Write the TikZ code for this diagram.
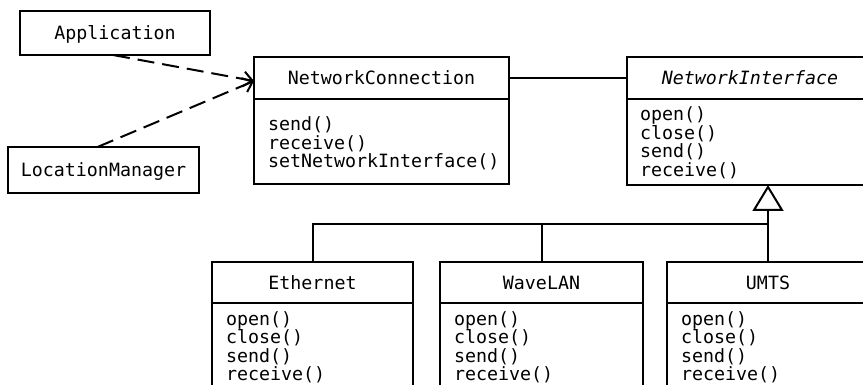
\documentclass[tikz,border=0pt]{standalone}
\usepackage{fontspec}
\newfontfamily\umlfont{DejaVu Sans Mono}
\usetikzlibrary{arrows.meta}
\begin{document}
\begin{tikzpicture}[x=1pt,y=-1pt, line width=2pt,
  box/.style={draw, rectangle, inner sep=0pt, outer sep=0pt,
    font=\umlfont\fontsize{18.3}{18.3}\selectfont, text height=13.4pt, text depth=0pt},
  body/.style={draw, rectangle, inner sep=0pt, outer sep=0pt, anchor=north},
  meth/.style={anchor=base west, inner sep=0pt,
    font=\umlfont\fontsize{18.3}{18.3}\selectfont},
  dep/.style={dash pattern=on 17pt off 8pt, -{Straight Barb[length=9pt,width=15pt]}},
  gen/.style={-{Triangle[open,length=26pt,width=31pt,fill=white]}},
]
\useasboundingbox (0,0) rectangle (863,385);
\clip (0,0) rectangle (863,385);

% client classes
\node[box, minimum width=190pt, minimum height=44pt] (app) at (115,33) {Application};
\node[box, minimum width=191pt, minimum height=46pt] (lm) at (103.5,170) {LocationManager};

% NetworkConnection
\node[box, minimum width=255pt, minimum height=42pt] (nc) at (381.5,78) {NetworkConnection};
\node[body, minimum width=255pt, minimum height=85pt] (ncb) at (nc.south) {};
\foreach \t [count=\i] in {send(),receive(),setNetworkInterface()}
  \node[meth] (ncm\i) at (267,{130.7+(\i-1)*18.4}) {\t};

% NetworkInterface
\node[box, minimum width=246pt, minimum height=42pt] (ni) at (750,78) {\itshape NetworkInterface};
\node[body, minimum width=246pt, minimum height=86pt] (nib) at (ni.south) {};
\foreach \t [count=\i] in {open(),close(),send(),receive()}
  \node[meth] (nim\i) at (639,{121+(\i-1)*18.4}) {\t};

% concrete interfaces
\node[box, minimum width=201pt, minimum height=41pt] (eth) at (312.5,282.5) {Ethernet};
\node[body, minimum width=201pt, minimum height=100pt] (ethb) at (eth.south) {};
\foreach \t [count=\i] in {open(),close(),send(),receive()}
  \node[meth] (ethm\i) at (225,{325.5+(\i-1)*18.3}) {\t};

\node[box, minimum width=203pt, minimum height=41pt] (wave) at (541.5,282.5) {WaveLAN};
\node[body, minimum width=203pt, minimum height=100pt] (waveb) at (wave.south) {};
\foreach \t [count=\i] in {open(),close(),send(),receive()}
  \node[meth] (wavem\i) at (453,{325.5+(\i-1)*18.3}) {\t};

\node[box, minimum width=202pt, minimum height=41pt] (umts) at (768,282.5) {UMTS};
\node[body, minimum width=202pt, minimum height=100pt] (umtsb) at (umts.south) {};
\foreach \t [count=\i] in {open(),close(),send(),receive()}
  \node[meth] (umtsm\i) at (680,{325.5+(\i-1)*18.3}) {\t};

% connectors
\draw[dep] ([xshift=-2pt]app.south) -- ([yshift=-3pt]nc.west);
\draw[dep] ([xshift=-6pt]lm.north) -- ([yshift=-3pt]nc.west);
\draw (nc.east) -- (ni.west);

\coordinate (bary) at (0,224);
\draw[gen] (umts.north) -- (umts.north |- nib.south);
\draw (eth.north) |- (umts.north |- bary);
\draw (wave.north) -- (wave.north |- bary);
\end{tikzpicture}
\end{document}
